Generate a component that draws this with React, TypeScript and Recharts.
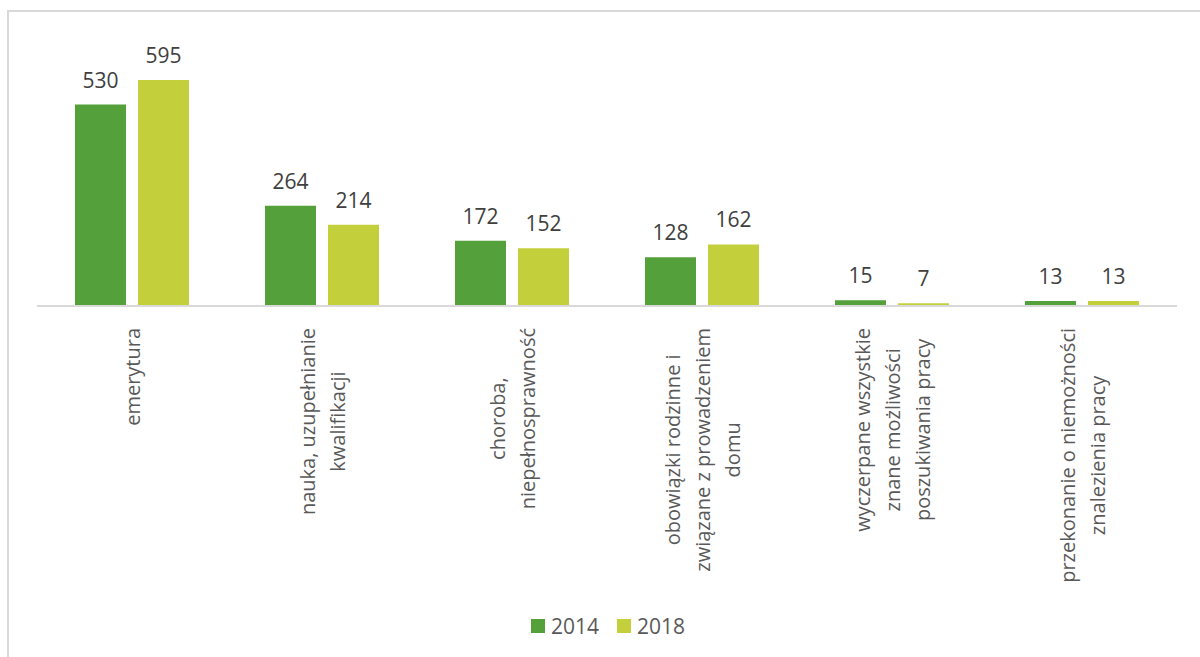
import React from "react"
import { BarChart, Bar, XAxis, YAxis, Legend, LabelList } from "recharts"

const categories = [
  "emerytura",
  "nauka, uzupełnianie\nkwalifikacji",
  "choroba,\nniepełnosprawność",
  "obowiązki rodzinne i\nzwiązane z prowadzeniem\ndomu",
  "wyczerpane wszystkie\nznane możliwości\nposzukiwania pracy",
  "przekonanie o niemożności\nznalezienia pracy",
]
const values2014 = [530, 264, 172, 128, 15, 13]
const values2018 = [595, 214, 152, 162, 7, 13]

const FONT = '"Open Sans", sans-serif'
const TICK_SIZE = 20
const LINE_H = 30

let ctx: CanvasRenderingContext2D | null = null
function measure(text: string) {
  if (!ctx) ctx = document.createElement("canvas").getContext("2d")
  if (!ctx) return text.length * 10
  ctx.font = `${TICK_SIZE}px "Open Sans"`
  return ctx.measureText(text).width
}

const CategoryTick = (props: any) => {
  const { x, y, payload } = props
  const lines: string[] = String(payload.value).split("\n")
  const maxLen = Math.max(...lines.map(measure))
  const y0 = y + 14
  return (
    <g transform={`translate(${x},${y0}) rotate(-90)`}>
      {lines.map((line, i) => (
        <text
          key={i}
          x={-maxLen / 2}
          y={(i - (lines.length - 1) / 2) * LINE_H}
          textAnchor="middle"
          dominantBaseline="central"
          fill="#595959"
          fontSize={TICK_SIZE}
          fontFamily={FONT}
        >
          {line}
        </text>
      ))}
    </g>
  )
}

const LegendContent = (props: any) => {
  const { payload } = props
  return (
    <div style={{ display: "flex", justifyContent: "center", alignItems: "center", fontFamily: FONT, paddingLeft: 16 }}>
      {payload.map((p: any, i: number) => (
        <div key={i} style={{ display: "flex", alignItems: "center", marginLeft: i ? 18 : 0 }}>
          <span style={{ width: 14, height: 14, background: p.color, display: "inline-block", marginRight: 6 }} />
          <span style={{ fontSize: 21, color: "#595959" }}>{p.value}</span>
        </div>
      ))}
    </div>
  )
}

export default function App() {
  const data = categories.map((name, i) => ({
    name,
    y2014: values2014[i],
    y2018: values2018[i],
  }))

  return (
    <div style={{ position: "absolute", left: 0, top: 0, width: 1200, height: 657, background: "#fff" }}>
      <div
        style={{
          position: "absolute",
          left: 7,
          top: 10,
          width: 1193,
          height: 647,
          borderTop: "2px solid #d9d9d9",
          borderLeft: "2px solid #d9d9d9",
          boxSizing: "border-box",
        }}
      />
      <div style={{ position: "absolute", left: 0, top: 0 }}>
        <BarChart
          width={1200}
          height={657}
          data={data}
          margin={{ top: 40, right: 23, left: 37, bottom: 0 }}
          barCategoryGap="20%"
          barGap={12}
          style={{ fontFamily: FONT }}
        >
          <XAxis
            dataKey="name"
            interval={0}
            tickLine={false}
            axisLine={{ stroke: "#d9d9d9", strokeWidth: 2 }}
            height={321}
            tick={<CategoryTick />}
          />
          <YAxis hide domain={[0, 700]} />
          <Legend
            content={<LegendContent />}
            wrapperStyle={{ top: 612, bottom: "auto", left: 0, width: 1200, height: 30 }}
          />
          <Bar dataKey="y2014" name="2014" fill="#54a03a" isAnimationActive={false}>
            <LabelList dataKey="y2014" position="top" offset={17} fill="#404040" fontSize={21} fontFamily={FONT} />
          </Bar>
          <Bar dataKey="y2018" name="2018" fill="#c3cf3b" isAnimationActive={false}>
            <LabelList dataKey="y2018" position="top" offset={17} fill="#404040" fontSize={21} fontFamily={FONT} />
          </Bar>
        </BarChart>
      </div>
    </div>
  )
}
